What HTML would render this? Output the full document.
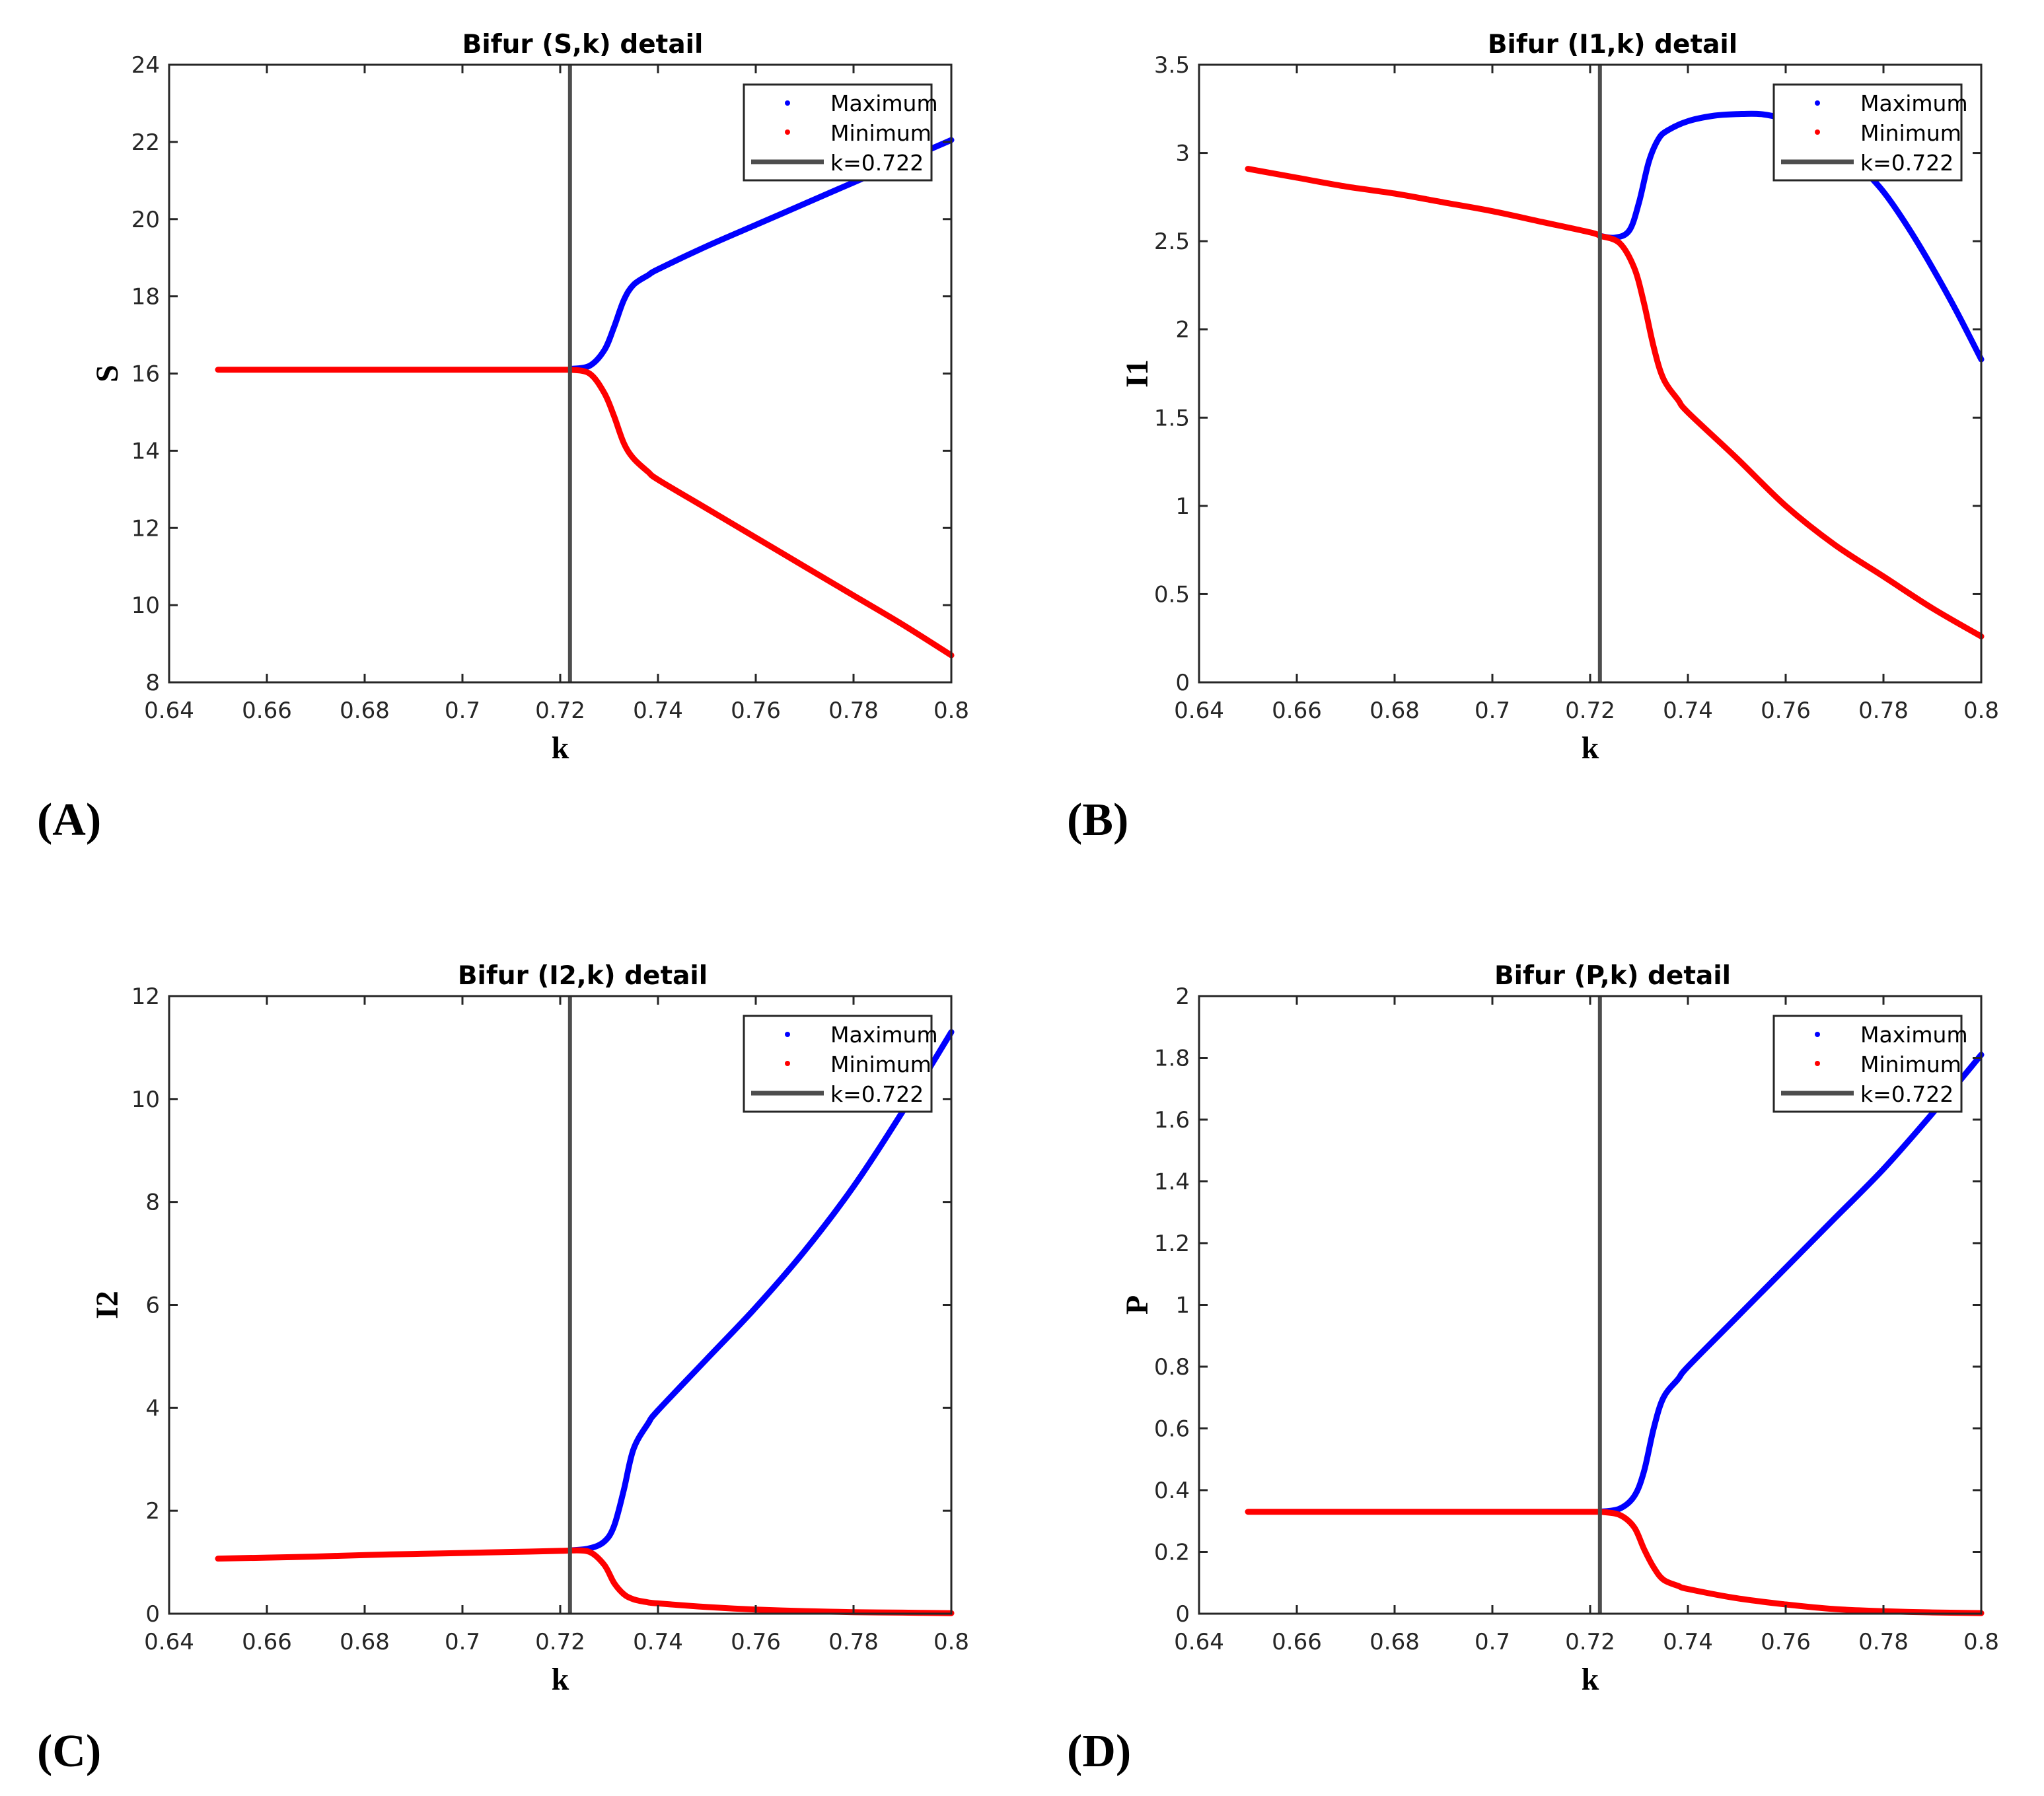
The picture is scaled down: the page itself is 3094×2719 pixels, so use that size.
<!DOCTYPE html>
<html><head><meta charset="utf-8"><style>
html,body{margin:0;padding:0;background:#fff;}
svg{display:block;}
</style></head><body>
<svg id="fig" width="3094" height="2719" viewBox="0 0 3094 2719" xmlns="http://www.w3.org/2000/svg"></svg>
<script>
// ---- data ----
const xTicks = [0.64,0.66,0.68,0.7,0.72,0.74,0.76,0.78,0.8];
const xTickLabels = ["0.64","0.66","0.68","0.7","0.72","0.74","0.76","0.78","0.8"];
const kCrit = 0.722;

const kPre = [0.65,0.66,0.67,0.68,0.69,0.70,0.71,0.72,0.722];
const kPost = [0.722,0.726,0.729,0.731,0.733,0.735,0.738,0.74,0.75,0.76,0.77,0.78,0.79,0.8];

const sPre = [16.1,16.1,16.1,16.1,16.1,16.1,16.1,16.1,16.1];
const sMax = [16.12,16.2,16.6,17.2,17.9,18.3,18.55,18.7,19.3,19.85,20.4,20.95,21.5,22.05];
const sMin = [16.1,16.0,15.5,14.9,14.2,13.8,13.45,13.25,12.5,11.75,11.0,10.25,9.5,8.7];
const sTicks = [8,10,12,14,16,18,20,22,24];
const sTickLabels = ["8","10","12","14","16","18","20","22","24"];

const i1Pre = [2.91,2.86,2.81,2.77,2.72,2.67,2.61,2.55,2.53];
const kI1Max = [0.722,0.725,0.728,0.730,0.732,0.734,0.736,0.74,0.745,0.75,0.755,0.76,0.765,0.77,0.775,0.78,0.785,0.79,0.795,0.8];
const i1Max = [2.53,2.52,2.56,2.72,2.95,3.08,3.13,3.18,3.21,3.22,3.22,3.19,3.13,3.05,2.93,2.78,2.58,2.35,2.1,1.83];
const i1Min = [2.53,2.49,2.35,2.15,1.9,1.72,1.6,1.53,1.27,1.0,0.78,0.6,0.42,0.26];
const i1Ticks = [0,0.5,1,1.5,2,2.5,3,3.5];
const i1TickLabels = ["0","0.5","1","1.5","2","2.5","3","3.5"];

const i2Pre = [1.07,1.09,1.11,1.14,1.16,1.18,1.20,1.22,1.23];
const i2Max = [1.23,1.27,1.4,1.7,2.4,3.2,3.7,3.95,4.95,5.95,7.05,8.3,9.75,11.3];
const i2Min = [1.23,1.2,0.95,0.6,0.38,0.28,0.22,0.2,0.13,0.08,0.05,0.03,0.02,0.01];
const i2Ticks = [0,2,4,6,8,10,12];
const i2TickLabels = ["0","2","4","6","8","10","12"];

const pPre = [0.33,0.33,0.33,0.33,0.33,0.33,0.33,0.33,0.33];
const pMax = [0.33,0.34,0.38,0.46,0.6,0.7,0.76,0.8,0.96,1.12,1.28,1.44,1.62,1.81];
const pMin = [0.33,0.32,0.28,0.21,0.15,0.11,0.09,0.08,0.05,0.03,0.015,0.008,0.004,0.002];
const pTicks = [0,0.2,0.4,0.6,0.8,1,1.2,1.4,1.6,1.8,2];
const pTickLabels = ["0","0.2","0.4","0.6","0.8","1","1.2","1.4","1.6","1.8","2"];

const NS = "http://www.w3.org/2000/svg";
const fig = document.getElementById('fig');
function mk(tag, attrs, parent){
  const e = document.createElementNS(NS, tag);
  for (const k in attrs) e.setAttribute(k, attrs[k]);
  (parent||fig).appendChild(e);
  return e;
}
function txt(s, attrs, parent){ const e = mk('text', attrs, parent); e.textContent = s; return e; }

function smoothPath(pts){
  let d = 'M' + pts[0][0].toFixed(1) + ',' + pts[0][1].toFixed(1);
  for (let i=0;i<pts.length-1;i++){
    const p0 = pts[Math.max(0,i-1)], p1 = pts[i], p2 = pts[i+1], p3 = pts[Math.min(pts.length-1,i+2)];
    const c1x = p1[0] + (p2[0]-p0[0])/6, c1y = p1[1] + (p2[1]-p0[1])/6;
    const c2x = p2[0] - (p3[0]-p1[0])/6, c2y = p2[1] - (p3[1]-p1[1])/6;
    d += 'C' + c1x.toFixed(1)+','+c1y.toFixed(1)+' '+c2x.toFixed(1)+','+c2y.toFixed(1)+' '+p2[0].toFixed(1)+','+p2[1].toFixed(1);
  }
  return d;
}

function panel(cfg){
  const L=cfg.x, T=cfg.y, W=1184, H=935, R=L+W, B=T+H;
  const g = mk('g', {});
  
  
  const xs = v => L + (v-0.64)/(0.8-0.64)*W;
  const ys = v => B - (v-cfg.ymin)/(cfg.ymax-cfg.ymin)*H;
  const font = '"DejaVu Sans","Liberation Sans",sans-serif';
  const t = txt(cfg.title, {x:(L+R)/2+34, y:T-18, 'text-anchor':'middle', 'font-family':font, 'font-weight':'bold', 'font-size':39, fill:'#000'}, g);
  
  
  const cid = 'clip'+cfg.id;
  const cp = mk('clipPath', {id:cid}, g);
  mk('rect', {x:L, y:T-6, width:W+8, height:H+12}, cp);
  function line(kx, vals, color, name){
    const pts = kx.map((k,i)=>[xs(k), ys(vals[i])]);
    const p = mk('path', {d:smoothPath(pts), fill:'none', stroke:color, 'stroke-width':9, 'stroke-linejoin':'round', 'stroke-linecap':'round', 'clip-path':'url(#'+cid+')'}, g);
    
    
  }
  line(cfg.kMax, cfg.max, '#0000ff', 'maximum-series');
  line(kPre, cfg.pre, '#ff0000', 'equilibrium-series');
  line(kPost, cfg.min, '#ff0000', 'minimum-series');
  const vl = mk('line', {x1:xs(kCrit), x2:xs(kCrit), y1:T, y2:B, stroke:'#4d4d4d', 'stroke-width':6}, g);
  
  
  const box = mk('rect', {x:L, y:T, width:W, height:H, fill:'none', stroke:'#262626', 'stroke-width':3}, g);
  
  
  xTicks.forEach((v,i)=>{
    const x = xs(v);
    mk('line', {x1:x, x2:x, y1:B, y2:B-13, stroke:'#262626', 'stroke-width':3}, g);
    mk('line', {x1:x, x2:x, y1:T, y2:T+13, stroke:'#262626', 'stroke-width':3}, g);
    const l = txt(xTickLabels[i], {x:x, y:B+54, 'text-anchor':'middle', 'font-family':font, 'font-size':34, fill:'#262626'}, g);
    
    
  });
  cfg.ticks.forEach((v,i)=>{
    const y = ys(v);
    mk('line', {x1:L, x2:L+13, y1:y, y2:y, stroke:'#262626', 'stroke-width':3}, g);
    mk('line', {x1:R, x2:R-13, y1:y, y2:y, stroke:'#262626', 'stroke-width':3}, g);
    const l = txt(cfg.tickLabels[i], {x:L-14, y:y+12, 'text-anchor':'end', 'font-family':font, 'font-size':34, fill:'#262626'}, g);
    
    
  });
  const xl = txt('k', {x:(L+R)/2, y:B+115, 'text-anchor':'middle', 'font-family':'"Liberation Serif",serif', 'font-weight':'bold', 'font-size':48, fill:'#000'}, g);
  
  
  const yx = L-78, yy = (T+B)/2;
  const yl = txt(cfg.ylabel, {x:yx, y:yy, 'text-anchor':'middle', 'font-family':'"Liberation Serif",serif', 'font-weight':'bold', 'font-size':48, fill:'#000', transform:'rotate(-90 '+yx+' '+yy+')'}, g);
  
  
  const lg = mk('g', {}, g);
  
  
  const lx = R-314, ly = T+30;
  mk('rect', {x:lx, y:ly, width:284, height:145, fill:'#fff', stroke:'#262626', 'stroke-width':3}, lg);
  mk('circle', {cx:lx+66, cy:ly+28, r:4, fill:'#0000ff'}, lg);
  mk('circle', {cx:lx+66, cy:ly+72, r:4, fill:'#ff0000'}, lg);
  mk('line', {x1:lx+11, x2:lx+121, y1:ly+117, y2:ly+117, stroke:'#4d4d4d', 'stroke-width':7}, lg);
  [['Maximum',40],['Minimum',85],['k=0.722',130]].forEach(([s,dy])=>{
    const e = txt(s, {x:lx+131, y:ly+dy, 'font-family':font, 'font-size':33, fill:'#000'}, lg);
    
    
  });
  const pl = txt(cfg.tag, {x:56, y:B+231, 'font-family':'"Liberation Serif",serif', 'font-weight':'bold', 'font-size':70, fill:'#000'}, g);
  if (cfg.x > 1000) pl.setAttribute('x', 1615);
  
  
}

panel({id:'panel-a', x:256, y:98, title:'Bifur (S,k) detail', ylabel:'S', ymin:8, ymax:24, ticks:sTicks, tickLabels:sTickLabels, pre:sPre, kMax:kPost, max:sMax, min:sMin, tag:'(A)'});
panel({id:'panel-b', x:1815, y:98, title:'Bifur (I1,k) detail', ylabel:'I1', ymin:0, ymax:3.5, ticks:i1Ticks, tickLabels:i1TickLabels, pre:i1Pre, kMax:kI1Max, max:i1Max, min:i1Min, tag:'(B)'});
panel({id:'panel-c', x:256, y:1508, title:'Bifur (I2,k) detail', ylabel:'I2', ymin:0, ymax:12, ticks:i2Ticks, tickLabels:i2TickLabels, pre:i2Pre, kMax:kPost, max:i2Max, min:i2Min, tag:'(C)'});
panel({id:'panel-d', x:1815, y:1508, title:'Bifur (P,k) detail', ylabel:'P', ymin:0, ymax:2, ticks:pTicks, tickLabels:pTickLabels, pre:pPre, kMax:kPost, max:pMax, min:pMin, tag:'(D)'});
</script>
</body></html>
